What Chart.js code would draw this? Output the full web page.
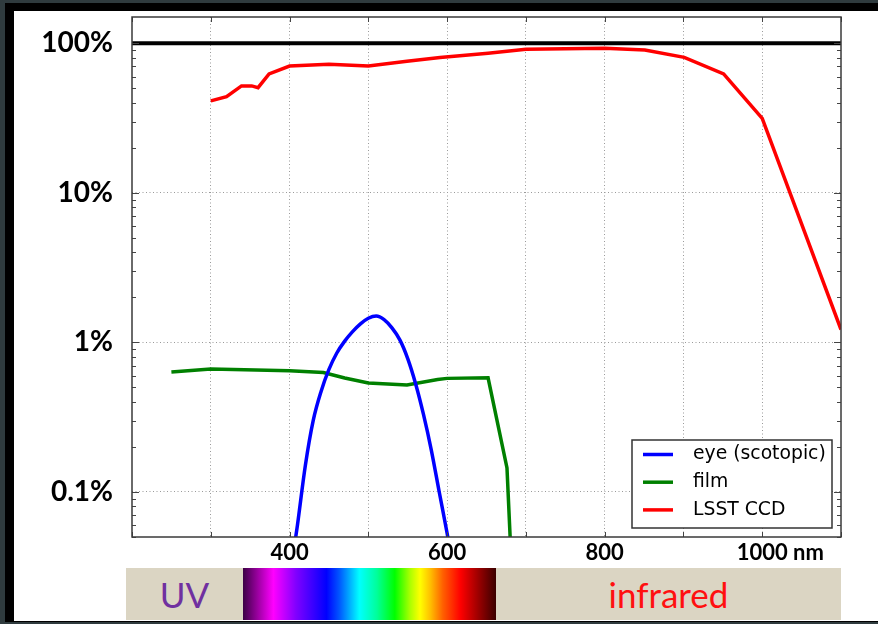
<!DOCTYPE html>
<html>
<head>
<meta charset="utf-8">
<script src="https://cdn.jsdelivr.net/npm/chart.js@4.4.1/dist/chart.umd.min.js"></script>
<style>
  html, body { margin: 0; padding: 0; }
  body { width: 878px; height: 624px; background: #2f3b3e; position: relative; overflow: hidden; }
  #frame { position: absolute; left: 5px; top: 3px; width: 873px; height: 619px; background: #000; }
  #sheet { position: absolute; left: 14px; top: 11px; width: 864px; height: 610px; background: #fff; }
  #chart { position: absolute; left: 0; top: 0; }
  .band { position: absolute; top: 568px; height: 52px; display: flex; align-items: center; justify-content: center;
          font-family: Lato, sans-serif; font-size: 35px; }
  #uv { left: 126px; width: 117px; background: #dbd5c3; color: #7030a0; }
  #spectrum { left: 243px; width: 253px;
    background: linear-gradient(to right, #3c0046 0%, #ff00ff 12%, #8000ff 21%, #0000ff 33%, #0055ff 38%,
      #00ffff 46%, #00ff99 53%, #00ff00 60%, #aaff00 66%, #ffff00 70%, #ffc000 74%, #ff6000 79%,
      #ff0000 86%, #3a0000 100%); }
  #ir { left: 496px; width: 345px; background: #dbd5c3; color: #ff1010; }
</style>
</head>
<body>
<div id="frame"></div>
<div id="sheet"></div>
<canvas id="chart" width="878" height="624"></canvas>
<div class="band" id="uv">UV</div>
<div class="band" id="spectrum"></div>
<div class="band" id="ir">infrared</div>
<script>
  // wavelength in nm, sensitivity in %
  const eyeNm  = [400, 410, 420, 430, 440, 450, 460, 470, 480, 490, 500, 510, 520, 530, 540, 550, 560, 570, 580, 590, 600, 610];
  const eyePct = [0.026, 0.06, 0.15, 0.30, 0.47, 0.66, 0.85, 1.02, 1.18, 1.33, 1.45, 1.50, 1.42, 1.25, 1.04, 0.78, 0.53, 0.33, 0.19, 0.10, 0.053, 0.027];

  const filmNm  = [250, 300, 400, 443, 470, 500, 549, 588, 600, 652, 676, 680, 683];
  const filmPct = [0.634, 0.664, 0.647, 0.63, 0.578, 0.535, 0.52, 0.565, 0.575, 0.58, 0.145, 0.05, 0.02];

  const ccdNm  = [300, 320, 339, 352, 360, 374, 400, 450, 500, 549, 591, 652, 700, 800, 851, 901, 951, 1000, 1100];
  const ccdPct = [41.2, 44, 51.9, 51.9, 50.5, 62.4, 70.5, 72.4, 70.5, 75.8, 80.5, 85.8, 91.2, 92.6, 90.2, 80.6, 62.4, 31.5, 1.22];

  const refNm  = [200, 1100];
  const refPct = [100, 100];

  const xTicks = [200, 300, 400, 500, 600, 700, 800, 900, 1000, 1100];
  const xLabelValues = [400, 600, 800, 1000];
  const xLabelTexts = ['400', '600', '800', '1000'];
  const xUnit = 'nm';
  const yTicks = [0.1, 1, 10, 100];

  function points(xs, ys) {
    return xs.map(function (x, i) { return { x: x, y: ys[i] }; });
  }

  const X_FONT = 22;
  const X_PAD = 3;

  const decorPlugin = {
    id: 'decor',
    afterDatasetsDraw(chart) {
      const ctx = chart.ctx;
      const a = chart.chartArea;
      const xs = chart.scales.x;
      const ys = chart.scales.y;
      ctx.save();

      // inward tick marks
      ctx.strokeStyle = '#444';
      ctx.lineWidth = 1;
      ctx.beginPath();
      for (let e = -2; e <= 2; e++) {
        for (let m = 1; m < 10; m++) {
          const v = m * Math.pow(10, e);
          if (v < ys.min || v > ys.max) continue;
          const py = Math.round(ys.getPixelForValue(v)) + 0.5;
          const len = m === 1 ? 7 : 4;
          ctx.moveTo(a.left, py); ctx.lineTo(a.left + len, py);
          ctx.moveTo(a.right, py); ctx.lineTo(a.right - len, py);
        }
      }
      xTicks.forEach(function (v) {
        const px = Math.round(xs.getPixelForValue(v)) + 0.5;
        ctx.moveTo(px, a.top); ctx.lineTo(px, a.top + 5);
        ctx.moveTo(px, a.bottom); ctx.lineTo(px, a.bottom - 5);
      });
      ctx.stroke();

      // plot frame
      ctx.strokeStyle = '#3a3a3a';
      ctx.lineWidth = 1.5;
      ctx.strokeRect(a.left, a.top, a.right - a.left, a.bottom - a.top);

      // unit after the last labelled tick
      ctx.font = 'bold ' + X_FONT + 'px Lato';
      ctx.fillStyle = '#000';
      ctx.textAlign = 'left';
      ctx.textBaseline = 'middle';
      const lastV = xLabelValues[xLabelValues.length - 1];
      const lastT = xLabelTexts[xLabelTexts.length - 1];
      const ux = xs.getPixelForValue(lastV) + ctx.measureText(lastT).width / 2;
      ctx.fillText(' ' + xUnit, ux, xs.top + X_PAD + X_FONT * 1.2 / 2);

      // legend box in the lower right corner
      const items = chart.data.datasets.filter(function (d) { return d.inLegend !== false; });
      const bw = 200, bh = 88;
      const bx = a.right - 9 - bw, by = a.bottom - 9 - bh;
      ctx.fillStyle = '#fff';
      ctx.fillRect(bx, by, bw, bh);
      ctx.strokeStyle = '#333';
      ctx.lineWidth = 1.5;
      ctx.strokeRect(bx, by, bw, bh);
      ctx.font = '18.8px "DejaVu Sans"';
      items.forEach(function (d, i) {
        const ly = by + 14.5 + i * 27.7;
        ctx.strokeStyle = d.borderColor;
        ctx.lineWidth = 3.5;
        ctx.beginPath();
        ctx.moveTo(bx + 11, ly); ctx.lineTo(bx + 41, ly);
        ctx.stroke();
        ctx.fillStyle = '#000';
        ctx.fillText(d.label, bx + 61, ly);
      });
      ctx.restore();
    }
  };

  Chart.defaults.font.family = 'Lato';

  new Chart(document.getElementById('chart'), {
    type: 'line',
    data: {
      datasets: [
        {
          label: 'eye (scotopic)', data: points(eyeNm, eyePct),
          borderColor: '#0000ff', borderWidth: 3.5, cubicInterpolationMode: 'monotone',
          pointRadius: 0, clip: 0
        },
        {
          label: 'film', data: points(filmNm, filmPct),
          borderColor: '#008000', borderWidth: 3.5, tension: 0,
          pointRadius: 0, clip: 0
        },
        {
          label: 'LSST CCD', data: points(ccdNm, ccdPct),
          borderColor: '#ff0000', borderWidth: 3.5, tension: 0,
          pointRadius: 0, clip: 0
        },
        {
          label: '100%', data: points(refNm, refPct), inLegend: false,
          borderColor: '#000', borderWidth: 4, tension: 0,
          pointRadius: 0, clip: 0
        }
      ]
    },
    options: {
      responsive: false,
      animation: false,
      devicePixelRatio: 1,
      layout: { padding: { left: 0, top: 17, right: 37, bottom: 47 } },
      plugins: {
        legend: { display: false },
        tooltip: { enabled: false }
      },
      scales: {
        x: {
          type: 'linear', min: 200, max: 1100,
          afterBuildTicks: function (s) { s.ticks = xTicks.map(function (v) { return { value: v }; }); },
          afterFit: function (s) { s.height = 40; s.paddingLeft = 0; s.paddingRight = 0; },
          ticks: {
            autoSkip: false, maxRotation: 0, padding: X_PAD, color: '#000',
            font: { size: X_FONT, weight: 'bold' },
            callback: function (v) {
              const i = xLabelValues.indexOf(v);
              return i < 0 ? '' : xLabelTexts[i];
            }
          },
          grid: {
            drawTicks: false, lineWidth: 1,
            color: function (c) {
              const v = c.tick && c.tick.value;
              return (v === 200 || v === 1100) ? 'rgba(0,0,0,0)' : '#9a9a9a';
            }
          },
          border: { display: false, dash: [1, 2.5] }
        },
        y: {
          type: 'logarithmic', min: 0.05, max: 150,
          afterBuildTicks: function (s) { s.ticks = yTicks.map(function (v) { return { value: v }; }); },
          afterFit: function (s) { s.width = 132; s.paddingTop = 0; s.paddingBottom = 0; },
          ticks: {
            padding: 19, color: '#000',
            font: { size: 28, weight: 'bold' },
            callback: function (v) { return v + '%'; }
          },
          grid: { drawTicks: false, lineWidth: 1, color: '#9a9a9a' },
          border: { display: false, dash: [1, 2.5] }
        }
      }
    },
    plugins: [decorPlugin]
  });
</script>
</body>
</html>
